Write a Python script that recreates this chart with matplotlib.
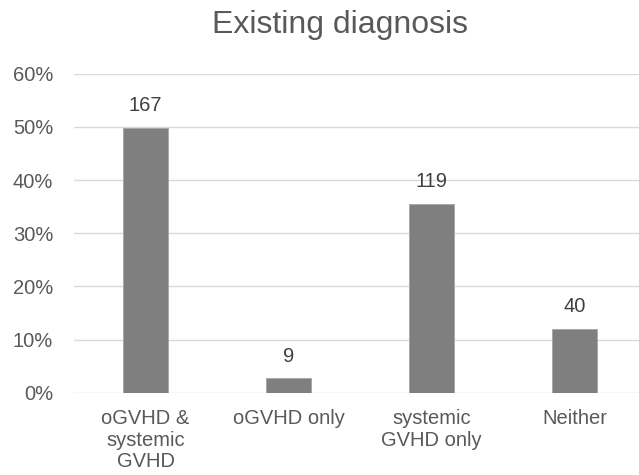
import matplotlib
matplotlib.use("Agg")
import matplotlib.pyplot as plt
from matplotlib.ticker import PercentFormatter

categories = ["oGVHD &\nsystemic\nGVHD", "oGVHD only", "systemic\nGVHD only", "Neither"]
counts = [167, 9, 119, 40]
total = sum(counts)
shares = [c / total for c in counts]
yticks = [0, 0.1, 0.2, 0.3, 0.4, 0.5, 0.6]

plt.rcParams['font.family'] = ['Liberation Sans', 'DejaVu Sans']
text_color = '#595959'

fig = plt.figure(figsize=(6.39, 4.75), dpi=100)
ax = fig.add_axes([74/639, (475-392.7)/475, 572/639, (392.7-73.7)/475])

x = range(len(categories))
bars = ax.bar(x, shares, width=0.31, color='#7f7f7f', edgecolor='#a6a6a6', linewidth=0.6, zorder=3)
for xi, s, c in zip(x, shares, counts):
    ax.annotate(str(c), (xi, s), xytext=(0, 16), textcoords='offset points',
                ha='center', va='center', fontsize=14.5, color='#404040')

ax.set_xlim(-0.5, len(categories) - 0.5)
ax.set_ylim(0, 0.6)
ax.set_yticks(yticks)
ax.yaxis.set_major_formatter(PercentFormatter(1.0, decimals=0))
ax.set_xticks(list(x))
ax.set_xticklabels(categories, fontsize=14.5, color=text_color, linespacing=1.17)
ax.tick_params(axis='y', labelsize=14.5, labelcolor=text_color, length=0, pad=15)
ax.tick_params(axis='x', length=0, pad=12)
ax.grid(axis='y', color='#d9d9d9', linewidth=1, zorder=0)
for sp in ax.spines.values():
    sp.set_visible(False)

fig.text(340/639, 1 - 25/475, "Existing diagnosis", ha='center', va='center',
         fontsize=23, color=text_color)

fig.savefig("out.png", dpi=100)
